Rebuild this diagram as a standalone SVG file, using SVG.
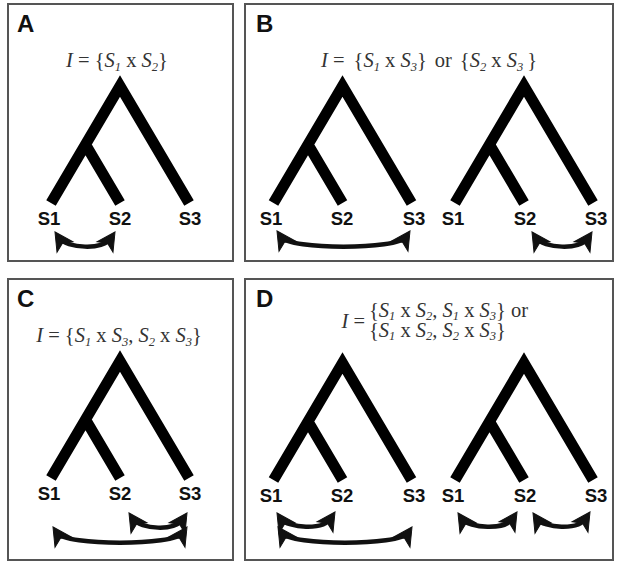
<svg xmlns="http://www.w3.org/2000/svg" width="617" height="563" viewBox="0 0 617 563">
<style>
.panel{fill:#fff;stroke:#555;stroke-width:2}
.letter{font-family:"Liberation Sans",Arial,sans-serif;font-weight:bold;font-size:24px;fill:#111}
.tree{fill:none;stroke:#000;stroke-width:11;stroke-linejoin:miter;stroke-miterlimit:10;stroke-linecap:butt}
.lbl{font-family:"Liberation Sans",Arial,sans-serif;font-weight:bold;font-size:18.5px;fill:#111;text-anchor:middle}
.title{font-family:"Liberation Serif","Times New Roman",serif;font-size:20.5px;fill:#333}
.i{font-style:italic}
.sub{font-style:italic;font-size:12.5px}
.arr{fill:none;stroke:#111;stroke-width:4.5}
.hd{fill:#111;stroke:#111;stroke-width:1;stroke-linejoin:miter}
</style>
<defs>
<path id="hd" class="hd" d="M0,0 L-18,-9.5 L-13.5,0 L-18,9.5 Z"/>
<path id="treeShape" class="tree" d="M-69,117 L0,0 L69,117 M-34.5,58.5 L0,117"/>
</defs>
<rect class="panel" x="8" y="4" width="225" height="257"/>
<rect class="panel" x="245" y="4" width="368" height="257"/>
<rect class="panel" x="8" y="279" width="225" height="281"/>
<rect class="panel" x="245" y="279" width="368" height="281"/>
<text class="letter" x="17" y="32">A</text>
<text class="letter" x="256" y="32">B</text>
<text class="letter" x="17" y="307">C</text>
<text class="letter" x="256" y="307">D</text>
<g id="titleA"><text class="title" x="117" y="67" text-anchor="middle"><tspan class="i">I</tspan> = {<tspan class="i">S</tspan><tspan class="sub" dy="3.5">1</tspan><tspan dy="-3.5"> x </tspan><tspan class="i">S</tspan><tspan class="sub" dy="3.5">2</tspan><tspan dy="-3.5">}</tspan></text></g>
<g id="titleB"><text class="title" x="429" y="67" text-anchor="middle"><tspan class="i">I</tspan> = <tspan dx="4">{</tspan><tspan class="i">S</tspan><tspan class="sub" dy="3.5">1</tspan><tspan dy="-3.5"> x </tspan><tspan class="i">S</tspan><tspan class="sub" dy="3.5">3</tspan><tspan dy="-3.5">}</tspan><tspan dx="8">or</tspan><tspan dx="8">{</tspan><tspan class="i">S</tspan><tspan class="sub" dy="3.5">2</tspan><tspan dy="-3.5"> x </tspan><tspan class="i">S</tspan><tspan class="sub" dy="3.5">3</tspan><tspan dy="-3.5" dx="4">}</tspan></text></g>
<g id="titleC"><text class="title" x="119" y="342" text-anchor="middle"><tspan class="i">I</tspan> = {<tspan class="i">S</tspan><tspan class="sub" dy="3.5">1</tspan><tspan dy="-3.5"> x </tspan><tspan class="i">S</tspan><tspan class="sub" dy="3.5">3</tspan><tspan dy="-3.5">, </tspan><tspan class="i">S</tspan><tspan class="sub" dy="3.5">2</tspan><tspan dy="-3.5"> x </tspan><tspan class="i">S</tspan><tspan class="sub" dy="3.5">3</tspan><tspan dy="-3.5">}</tspan></text></g>
<g id="titleD">
<text class="title" x="365" y="328" text-anchor="end"><tspan class="i">I</tspan> =</text>
<text class="title" x="369" y="317">{<tspan class="i">S</tspan><tspan class="sub" dy="3">1</tspan><tspan dy="-3"> x </tspan><tspan class="i">S</tspan><tspan class="sub" dy="3">2</tspan><tspan dy="-3">, </tspan><tspan class="i">S</tspan><tspan class="sub" dy="3">1</tspan><tspan dy="-3"> x </tspan><tspan class="i">S</tspan><tspan class="sub" dy="3">3</tspan><tspan dy="-3">} or</tspan></text>
<text class="title" x="369" y="337">{<tspan class="i">S</tspan><tspan class="sub" dy="3">1</tspan><tspan dy="-3"> x </tspan><tspan class="i">S</tspan><tspan class="sub" dy="3">2</tspan><tspan dy="-3">, </tspan><tspan class="i">S</tspan><tspan class="sub" dy="3">2</tspan><tspan dy="-3"> x </tspan><tspan class="i">S</tspan><tspan class="sub" dy="3">3</tspan><tspan dy="-3">}</tspan></text>
</g>
<g id="treeA"><use href="#treeShape" x="120" y="86"/><text class="lbl" x="49" y="225">S1</text><text class="lbl" x="120" y="225">S2</text><text class="lbl" x="190" y="225">S3</text></g>
<g id="treeB1"><use href="#treeShape" x="342.5" y="86"/><text class="lbl" x="271" y="225">S1</text><text class="lbl" x="342" y="225">S2</text><text class="lbl" x="414" y="225">S3</text></g>
<g id="treeB2"><use href="#treeShape" x="524" y="86"/><text class="lbl" x="453" y="225">S1</text><text class="lbl" x="525" y="225">S2</text><text class="lbl" x="596" y="225">S3</text></g>
<g id="treeC"><use href="#treeShape" x="120" y="361"/><text class="lbl" x="49" y="500">S1</text><text class="lbl" x="120" y="500">S2</text><text class="lbl" x="190" y="500">S3</text></g>
<g id="treeD1"><use href="#treeShape" x="342.5" y="363"/><text class="lbl" x="271" y="502">S1</text><text class="lbl" x="342" y="502">S2</text><text class="lbl" x="414" y="502">S3</text></g>
<g id="treeD2"><use href="#treeShape" x="524" y="363"/><text class="lbl" x="453" y="502">S1</text><text class="lbl" x="525" y="502">S2</text><text class="lbl" x="596" y="502">S3</text></g>
<g id="connectors">
<path class="arr" d="M59,238 C66,248 104,251 111,238"/>
<use href="#hd" transform="translate(55,232) rotate(-123.5)"/>
<use href="#hd" transform="translate(115,232) rotate(-56.5)"/>
<path class="arr" d="M281,237 C290,250 397,250 406,237"/>
<use href="#hd" transform="translate(277,231) rotate(-123.5)"/>
<use href="#hd" transform="translate(410,231) rotate(-56.5)"/>
<path class="arr" d="M536,238 C543,248 581,251 588,238"/>
<use href="#hd" transform="translate(532,232) rotate(-123.5)"/>
<use href="#hd" transform="translate(592,232) rotate(-56.5)"/>
<path class="arr" d="M133,519 C140,529 176,532 183,519"/>
<use href="#hd" transform="translate(129,513) rotate(-123.5)"/>
<use href="#hd" transform="translate(187,513) rotate(-56.5)"/>
<path class="arr" d="M57,533 C66,546 174,546 183,533"/>
<use href="#hd" transform="translate(53,527) rotate(-123.5)"/>
<use href="#hd" transform="translate(187,527) rotate(-56.5)"/>
<path class="arr" d="M281,519 C288,528 324,531 331,518"/>
<use href="#hd" transform="translate(277,513) rotate(-123.5)"/>
<use href="#hd" transform="translate(335,512) rotate(-56.5)"/>
<path class="arr" d="M282,533 C291,546 399,546 408,533"/>
<use href="#hd" transform="translate(278,527) rotate(-123.5)"/>
<use href="#hd" transform="translate(412,527) rotate(-56.5)"/>
<path class="arr" d="M462,519 C469,528 506,531 513,518"/>
<use href="#hd" transform="translate(458,513) rotate(-123.5)"/>
<use href="#hd" transform="translate(517,512) rotate(-56.5)"/>
<path class="arr" d="M537,519 C544,528 579,531 586,518"/>
<use href="#hd" transform="translate(533,513) rotate(-123.5)"/>
<use href="#hd" transform="translate(590,512) rotate(-56.5)"/>
</g>
</svg>
